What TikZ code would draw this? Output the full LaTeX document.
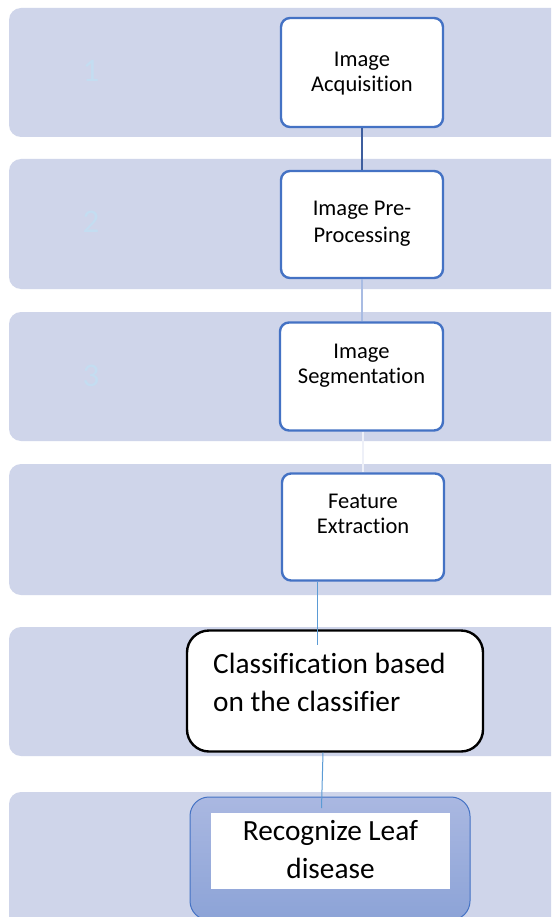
\documentclass[tikz,border=0pt]{standalone}
\usepackage{fontspec}
\setmainfont[Ligatures={NoCommon}]{Carlito}
\definecolor{laneFill}{HTML}{CFD5EA}
\definecolor{boxBlue}{HTML}{4472C4}
\definecolor{darkLink}{HTML}{3E5E9E}
\definecolor{paleLink}{HTML}{A9BCE3}
\definecolor{whiteLink}{HTML}{EEF0F8}
\definecolor{skyLink}{HTML}{5B9BD5}
\definecolor{numTint}{HTML}{C4DDF1}
\definecolor{gradTop}{HTML}{AAB8E1}
\definecolor{gradBot}{HTML}{8CA3D7}
\begin{document}
\begin{tikzpicture}[x=1pt,y=-1pt,
  lane/.style={fill=laneFill,rounded corners=12pt},
  stepbox/.style={draw=boxBlue,line width=2.4pt,fill=white,rounded corners=9pt,
    rectangle,inner sep=0pt},
  steptext/.style={anchor=base,inner sep=0pt,font=\fontsize{22.5}{25}\selectfont},
  bigtext/.style={anchor=base,inner sep=0pt,font=\fontsize{29.3}{37}\selectfont},
  lanenum/.style={anchor=base,inner sep=0pt,text=numTint,font=\fontsize{33}{40}\selectfont},
  thinlink/.style={skyLink,line width=1pt}]
\clip (0,0) rectangle (551,917);
\fill[white] (0,0) rectangle (551,917);

% horizontal lanes
\fill[lane] (9,8)   rectangle (590,137);
\fill[lane] (9,159) rectangle (590,289);
\fill[lane] (9,312) rectangle (590,441);
\fill[lane] (9,464) rectangle (590,595);
\fill[lane] (9,627) rectangle (590,756);
\fill[lane] (9,792) rectangle (590,960);

% lane numbers
\node[lanenum] (n1) at (91,82)  {1};
\node[lanenum] (n2) at (91,233) {2};
\node[lanenum] (n3) at (91,386) {3};

% process boxes
\node[stepbox,minimum width=162pt,minimum height=109pt] (acq)  at (362,72.5)  {};
\node[stepbox,minimum width=162pt,minimum height=107pt] (pre)  at (362,224.5) {};
\node[stepbox,minimum width=163pt,minimum height=108pt] (seg)  at (361.5,376.5) {};
\node[stepbox,minimum width=162pt,minimum height=107pt] (feat) at (363,527) {};
\node[draw=black,line width=2.4pt,fill=white,rounded corners=22pt,inner sep=0pt,
      minimum width=296pt,minimum height=121pt] (cls) at (335,691) {};
\node[draw=boxBlue,line width=1pt,top color=gradTop,bottom color=gradBot,
      rounded corners=19pt,inner sep=0pt,
      minimum width=280pt,minimum height=123pt] (rec) at (330,858.5) {};
\node[fill=white,inner sep=0pt,minimum width=239pt,minimum height=76pt] (recIn) at (330.5,851) {};

% box labels
\node[steptext] (acqA)  at (362,67)  {Image};
\node[steptext] (acqB)  at (362,92)  {Acquisition};
\node[steptext] (preA)  at (362,216) {Image Pre-};
\node[steptext] (preB)  at (362,243) {Processing};
\node[steptext] (segA)  at (361.5,358) {Image};
\node[steptext] (segB)  at (361.5,383) {Segmentation};
\node[steptext] (featA) at (363,508) {Feature};
\node[steptext] (featB) at (363,533) {Extraction};
\node[bigtext,anchor=base west] (clsA) at (213,673) {Classification based};
\node[bigtext,anchor=base west] (clsB) at (213,711) {on the classifier};
\node[bigtext] (recA) at (330.5,840) {Recognize Leaf};
\node[bigtext] (recB) at (330.5,878) {disease};

% connectors
\coordinate (l4x) at (317,0);
\coordinate (l4end) at (317,645);
\coordinate (l5x) at (323,0);
\coordinate (l5end) at (321.5,808);
\draw[darkLink,line width=2.5pt] (acq.south) -- (pre.north);
\draw[paleLink,line width=1.6pt] (pre.south) -- (seg.north -| pre.south);
\draw[whiteLink,line width=2pt] (seg.south -| feat.north) -- (feat.north);
\draw[thinlink] (feat.south -| l4x) -- (l4end);
\draw[thinlink] (cls.south -| l5x) -- (l5end);
\end{tikzpicture}
\end{document}
